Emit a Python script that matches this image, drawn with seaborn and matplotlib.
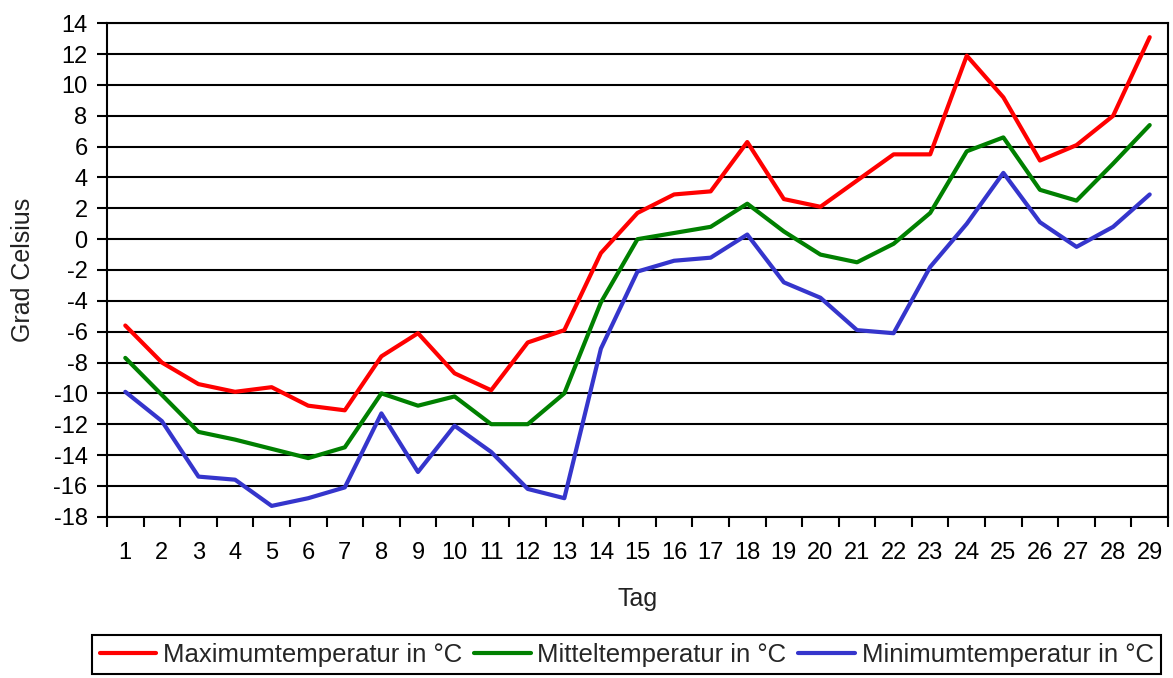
import matplotlib
matplotlib.use("Agg")
import matplotlib.pyplot as plt
import seaborn as sns
import pandas as pd
import numpy as np

# Daily temperatures
days = list(range(1, 30))
t_max = [-5.6, -8.0, -9.4, -9.9, -9.6, -10.8, -11.1, -7.6, -6.1, -8.7,
         -9.8, -6.7, -5.9, -0.9, 1.7, 2.9, 3.1, 6.3, 2.6, 2.1,
         3.8, 5.5, 5.5, 11.9, 9.2, 5.1, 6.1, 8.0, 13.1]
t_mean = [-7.7, -10.1, -12.5, -13.0, -13.6, -14.2, -13.5, -10.0, -10.8, -10.2,
          -12.0, -12.0, -10.0, -4.1, 0.0, 0.4, 0.8, 2.3, 0.5, -1.0,
          -1.5, -0.3, 1.7, 5.7, 6.6, 3.2, 2.5, 4.9, 7.4]
t_min = [-9.9, -11.8, -15.4, -15.6, -17.3, -16.8, -16.1, -11.3, -15.1, -12.1,
         -13.8, -16.2, -16.8, -7.1, -2.1, -1.4, -1.2, 0.3, -2.8, -3.8,
         -5.9, -6.1, -1.8, 1.0, 4.3, 1.1, -0.5, 0.8, 2.9]

series_names = ['Maximumtemperatur in °C', 'Mitteltemperatur in °C', 'Minimumtemperatur in °C']
colors = ['#ff0000', '#008000', '#3535cc']
y_ticks = np.arange(-18, 15, 2)

sns.set_theme(style="white")
plt.rcParams['font.family'] = ['Liberation Sans', 'DejaVu Sans']
plt.rcParams['axes.unicode_minus'] = False

df = pd.DataFrame({
    'Tag': days,
    series_names[0]: t_max,
    series_names[1]: t_mean,
    series_names[2]: t_min,
}).melt(id_vars='Tag', var_name='Reihe', value_name='Grad Celsius')

W, H = 1173, 678
fig = plt.figure(figsize=(W / 100, H / 100), dpi=100)
ax = fig.add_axes([107 / W, 1 - 516.7 / H, (1168 - 107) / W, (516.7 - 23.3) / H])

sns.lineplot(data=df, x='Tag', y='Grad Celsius', hue='Reihe', hue_order=series_names,
             palette=colors, linewidth=3, ax=ax)

ax.set_xlim(0.5, 29.5)
ax.set_ylim(-18, 14)
ax.set_yticks(y_ticks)
ax.set_xticks(days)
ax.set_xticks(np.arange(0.5, 30, 1), minor=True)
ax.grid(axis='y', color='black', linewidth=1.5)

ax.tick_params(axis='x', which='major', length=0, pad=18, labelsize=17, colors='black')
ax.tick_params(axis='x', which='minor', bottom=True, length=7, width=1.5,
               direction='out', color='black')
ax.tick_params(axis='y', left=True, length=7, width=1.5, direction='out',
               pad=7, labelsize=17, color='black', labelcolor='black')

for sp in ax.spines.values():
    sp.set_color('black')
    sp.set_linewidth(1.5)

ax.set_ylabel('Grad Celsius', fontsize=18, color='#222222')
ax.yaxis.set_label_coords(-0.068, 0.5)
ax.set_xlabel('Tag', fontsize=18, color='#222222')
ax.xaxis.set_label_coords(0.5, -0.142)

sns.move_legend(ax, 'upper left', bbox_to_anchor=(92 / W, 1 - 635 / H),
                bbox_transform=fig.transFigure, ncol=3, title=None,
                frameon=True, fancybox=False, framealpha=1, edgecolor='black',
                fontsize=18.5, borderpad=0.3, borderaxespad=0,
                handlelength=2.2, handletextpad=0.27, columnspacing=0.45)
leg = ax.get_legend()
leg.get_frame().set_linewidth(1.5)
for h in leg.legend_handles:
    h.set_linewidth(3)

fig.savefig('out.png', dpi=100)
